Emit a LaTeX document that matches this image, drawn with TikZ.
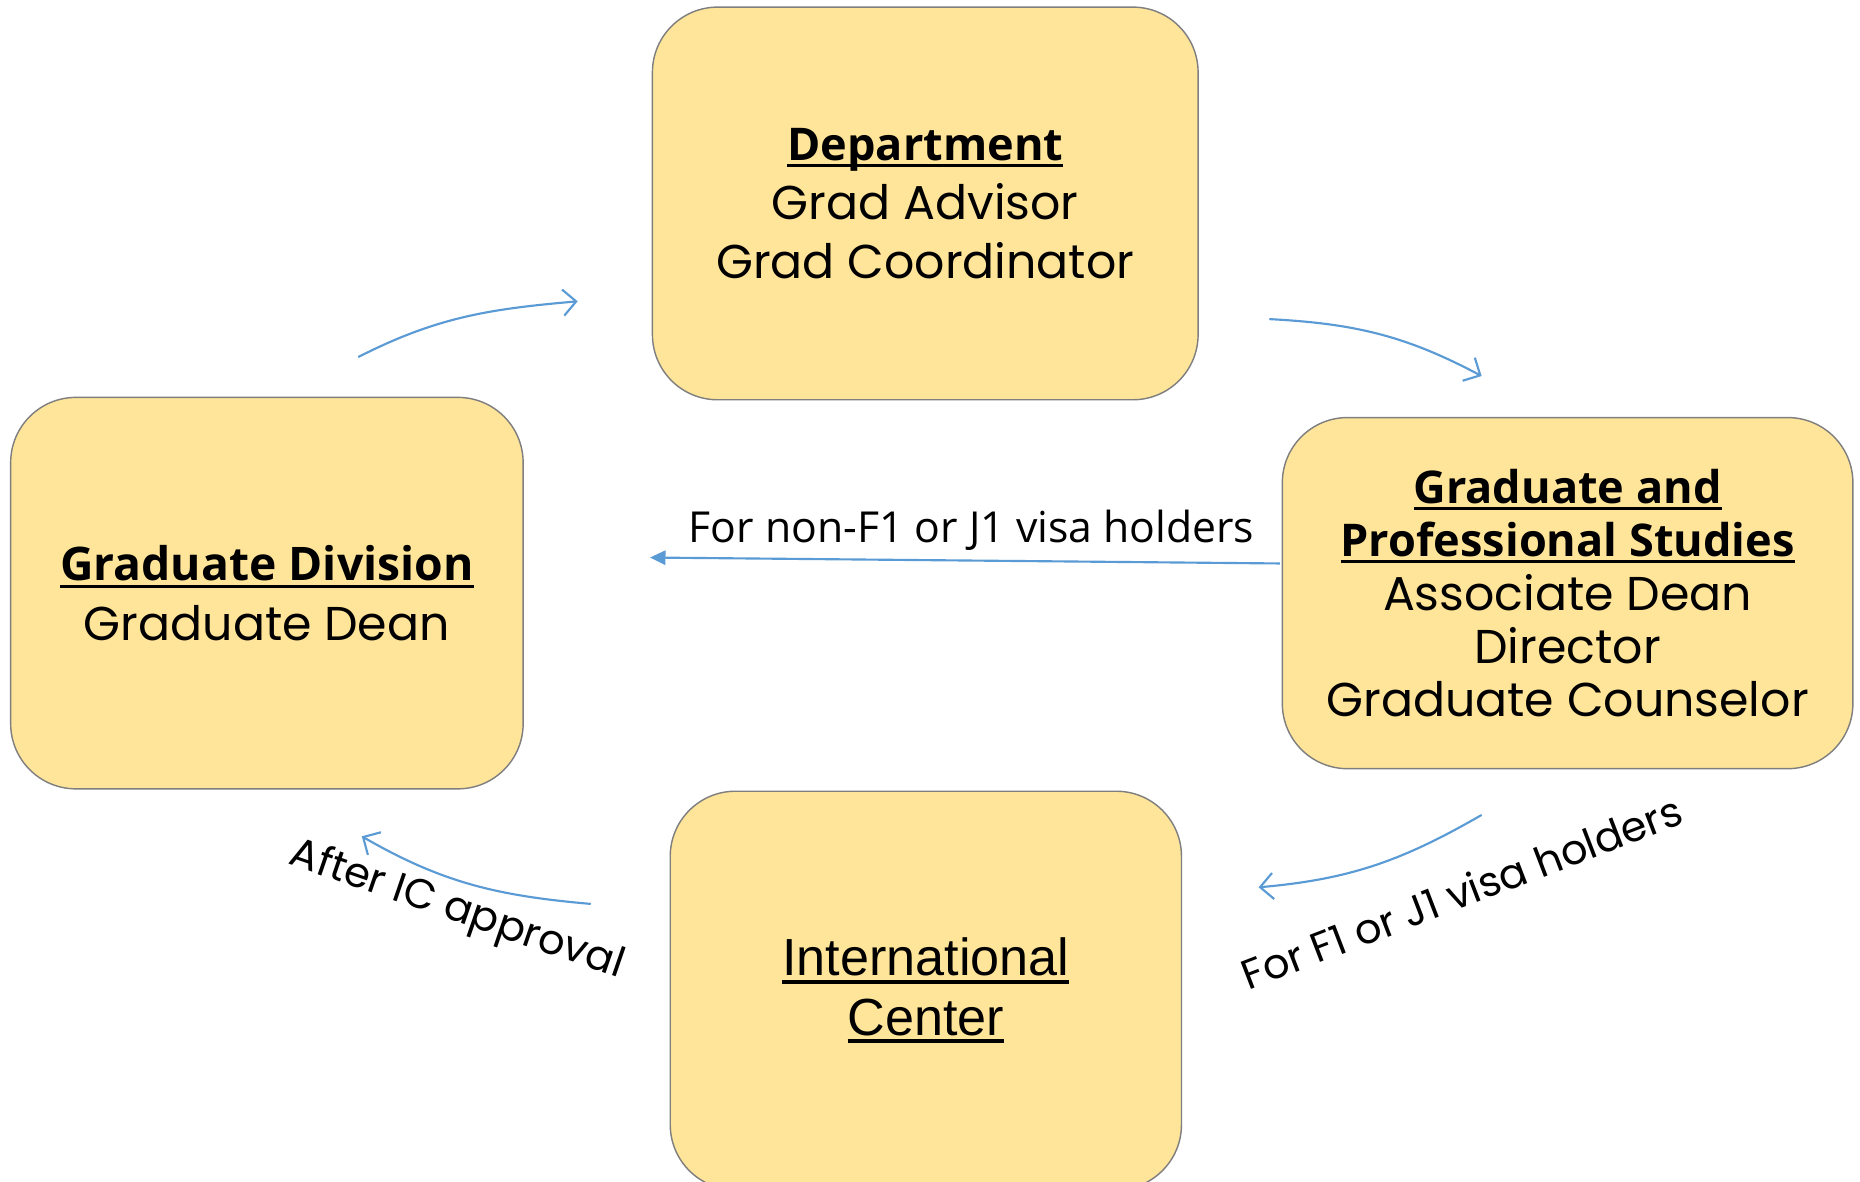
\documentclass[tikz,border=0pt]{standalone}
\usepackage{fontspec}
\usetikzlibrary{arrows.meta}
\newfontfamily\gothic{Poppins}
\newfontfamily\tahoma{Open Sans}
\newfontfamily\arialf{Liberation Sans}
\newfontfamily\segoe{Open Sans}
\definecolor{boxfill}{HTML}{FFE599}
\definecolor{boxline}{HTML}{7F7F7F}
\definecolor{arrowblue}{HTML}{5B9BD5}
\newcommand\ulx[1]{\setbox0=\hbox{#1}\rlap{\rule[-0.15em]{\wd0}{0.07em}}\box0}
\begin{document}
\begin{tikzpicture}[x=1pt,y=1pt,
  orgbox/.style={draw=boxline, line width=1.2pt, fill=boxfill, rounded corners=55pt, align=center, inner sep=0pt},
  flow/.style={draw=arrowblue, line width=1.8pt, -{Straight Barb[length=11pt,width=22pt,line width=1.8pt]}},
  straightflow/.style={draw=arrowblue, line width=1.8pt, -{Triangle[length=13pt,width=12pt]}}
]
\clip (0,0) rectangle (1568,-996);
\fill[white] (0,0) rectangle (1568,-996);

\node[orgbox, minimum width=460pt, minimum height=331pt, font=\gothic\fontsize{40}{50}\selectfont] (dept) at (780,-171.5)
  {{\tahoma\bfseries\fontsize{38}{50}\selectfont\ulx{Department}}\\Grad Advisor\\Grad Coordinator};
\node[orgbox, minimum width=432pt, minimum height=330pt, font=\gothic\fontsize{40}{50}\selectfont] (gd) at (225,-500)
  {{\tahoma\bfseries\fontsize{39}{50}\selectfont\ulx{Graduate Division}}\\Graduate Dean};
\node[orgbox, minimum width=481pt, minimum height=296pt, font=\gothic\fontsize{40}{45}\selectfont] (gps) at (1321.5,-500)
  {{\tahoma\bfseries\fontsize{38}{45}\selectfont\ulx{Graduate and}}\\{\tahoma\bfseries\fontsize{38}{45}\selectfont\ulx{Professional Studies}}\\Associate Dean\\Director\\Graduate Counselor};
\node[orgbox, minimum width=431pt, minimum height=336pt, font=\arialf\fontsize{44}{50}\selectfont] (ic) at (780.5,-835)
  {\ulx{International}\\\ulx{Center}};

\coordinate (a1s) at (302,-301); \coordinate (a1e) at (487,-254);
\coordinate (a2s) at (1070,-269); \coordinate (a2e) at (1249,-317);
\coordinate (a3s) at (1079,-475); \coordinate (a3e) at (548,-470);
\coordinate (a4s) at (1249,-687); \coordinate (a4e) at (1061,-748);
\coordinate (a5s) at (498,-762); \coordinate (a5e) at (305,-705);

\draw[flow] (a1s) to[out=27,in=185] (a1e);
\draw[flow] (a2s) to[out=-3,in=152] (a2e);
\draw[straightflow] (a3s) -- (a3e);
\draw[flow] (a4s) to[out=210,in=5] (a4e);
\draw[flow] (a5s) to[out=175,in=330] (a5e);

\node[font=\segoe\fontsize{36}{40}\selectfont] (lbl1) at (819,-447) {For non-F1 or J1 visa holders};
\node[font=\gothic\fontsize{35}{40}\selectfont, rotate=21] (lbl2) at (1232,-752) {For F1 or J1 visa holders};
\node[font=\gothic\fontsize{35}{40}\selectfont, rotate=-19] (lbl3) at (385,-768) {After IC approval};
\end{tikzpicture}
\end{document}
